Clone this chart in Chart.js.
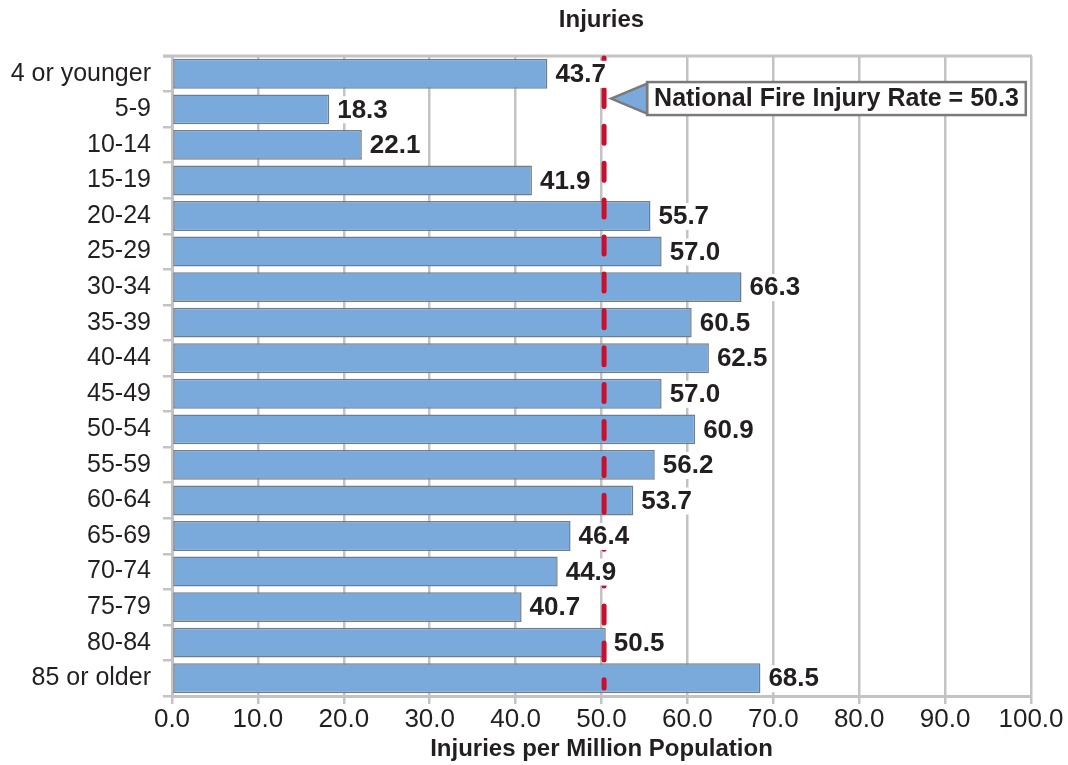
<!DOCTYPE html>
<html>
<head>
<meta charset="utf-8">
<script src="https://cdn.jsdelivr.net/npm/chart.js@4/dist/chart.umd.min.js"></script>
<style>
  html, body { margin: 0; padding: 0; background: #fff; }
  #wrap { width: 1068px; height: 765px; }
</style>
</head>
<body>
<div id="wrap"><canvas id="chart" width="1068" height="765"></canvas></div>
<script>
const ageGroups = ['4 or younger', '5-9', '10-14', '15-19', '20-24', '25-29', '30-34', '35-39',
  '40-44', '45-49', '50-54', '55-59', '60-64', '65-69', '70-74', '75-79', '80-84', '85 or older'];
const injuryRates = [43.7, 18.3, 22.1, 41.9, 55.7, 57.0, 66.3, 60.5, 62.5, 57.0, 60.9, 56.2, 53.7, 46.4, 44.9, 40.7, 50.5, 68.5];
const nationalRate = 50.3;
const nationalLabel = 'National Fire Injury Rate = 50.3';
const chartTitle = 'Injuries';

const FONT = "'Liberation Sans', Arial, sans-serif";
const GRID = '#c3c3c6';
const INK = '#231f20';

// value labels at the end of each bar, on a white patch
const valueLabels = {
  id: 'valueLabels',
  afterDraw(chart) {
    const { ctx } = chart;
    const meta = chart.getDatasetMeta(0);
    ctx.save();
    ctx.font = 'bold 26px ' + FONT;
    ctx.textBaseline = 'middle';
    meta.data.forEach((bar, i) => {
      const txt = injuryRates[i].toFixed(1);
      const w = ctx.measureText(txt).width;
      ctx.fillStyle = '#ffffff';
      ctx.fillRect(bar.x + 5, bar.y - 13, w + 6, 27);
      ctx.fillStyle = INK;
      ctx.fillText(txt, bar.x + 8, bar.y + 1);
    });
    ctx.restore();
  }
};

// title, top frame line, dashed national line and callout
const refLine = {
  id: 'refLine',
  beforeDatasetsDraw(chart) {
    const { ctx, chartArea } = chart;
    ctx.save();
    ctx.strokeStyle = GRID;
    ctx.lineWidth = 3;
    ctx.beginPath();
    ctx.moveTo(chartArea.left - 9, chartArea.top);
    ctx.lineTo(chartArea.right + 1, chartArea.top);
    ctx.stroke();
    ctx.font = 'bold 24px ' + FONT;
    ctx.fillStyle = INK;
    ctx.textAlign = 'center';
    ctx.textBaseline = 'middle';
    ctx.fillText(chartTitle, (chartArea.left + chartArea.right) / 2, 20);
    ctx.restore();
  },
  afterDraw(chart) {
    const { ctx, chartArea, scales } = chart;
    const x = scales.x.getPixelForValue(nationalRate);
    ctx.save();
    ctx.strokeStyle = '#c8102e';
    ctx.lineWidth = 5;
    ctx.lineCap = 'round';
    ctx.setLineDash([17, 19.9]);
    ctx.lineDashOffset = 5.5;
    ctx.beginPath();
    ctx.moveTo(x, chartArea.top + 2);
    ctx.lineTo(x, chartArea.bottom - 8);
    ctx.stroke();
    ctx.setLineDash([]);

    // callout
    const y0 = scales.y.getPixelForValue(0);
    const y1 = scales.y.getPixelForValue(1);
    const cy = (y0 + y1) / 2 + 7;
    ctx.font = 'bold 25px ' + FONT;
    const tw = ctx.measureText(nationalLabel).width;
    const boxL = x + 43;
    const boxW = tw + 14;
    const boxH = 33;
    ctx.lineWidth = 2.5;
    ctx.lineCap = 'butt';
    ctx.strokeStyle = '#7a7a7d';
    ctx.fillStyle = '#ffffff';
    ctx.fillRect(boxL, cy - boxH / 2, boxW, boxH);
    ctx.strokeRect(boxL, cy - boxH / 2, boxW, boxH);
    ctx.beginPath();
    ctx.moveTo(x + 7, cy);
    ctx.lineTo(boxL, cy - 15);
    ctx.lineTo(boxL, cy + 15);
    ctx.closePath();
    ctx.fillStyle = '#7aaadc';
    ctx.fill();
    ctx.stroke();
    ctx.fillStyle = INK;
    ctx.textBaseline = 'middle';
    ctx.fillText(nationalLabel, boxL + 7, cy + 1);
    ctx.restore();
  }
};

new Chart(document.getElementById('chart'), {
  type: 'bar',
  data: {
    labels: ageGroups,
    datasets: [{
      data: injuryRates,
      backgroundColor: '#7aaadc',
      borderColor: '#6f7c8a',
      borderWidth: 1.5,
      borderSkipped: false,
      barPercentage: 0.84,
      categoryPercentage: 1
    }]
  },
  options: {
    indexAxis: 'y',
    responsive: false,
    animation: false,
    layout: { padding: { left: 0, right: 37, top: 56, bottom: 0 } },
    plugins: {
      legend: { display: false },
      tooltip: { enabled: false },
      title: { display: false }
    },
    scales: {
      x: {
        min: 0,
        max: 100,
        ticks: {
          stepSize: 10,
          color: INK,
          font: { family: FONT, size: 26 },
          padding: 0,
          callback: v => Number(v).toFixed(1)
        },
        grid: { color: GRID, lineWidth: 2.5, tickLength: 8 },
        border: { color: GRID, width: 3 },
        title: {
          display: true,
          text: 'Injuries per Million Population',
          color: INK,
          font: { family: FONT, size: 24, weight: 'bold' },
          padding: { top: 0, bottom: 1 }
        },
        afterFit(scale) { scale.height = 69; }
      },
      y: {
        ticks: {
          color: INK,
          font: { family: FONT, size: 25 },
          padding: 12
        },
        grid: { offset: true, drawOnChartArea: false, color: GRID, lineWidth: 2.5, tickLength: 9 },
        border: { color: GRID, width: 3 },
        afterFit(scale) { scale.width = 172; }
      }
    }
  },
  plugins: [refLine, valueLabels]
});
</script>
</body>
</html>
